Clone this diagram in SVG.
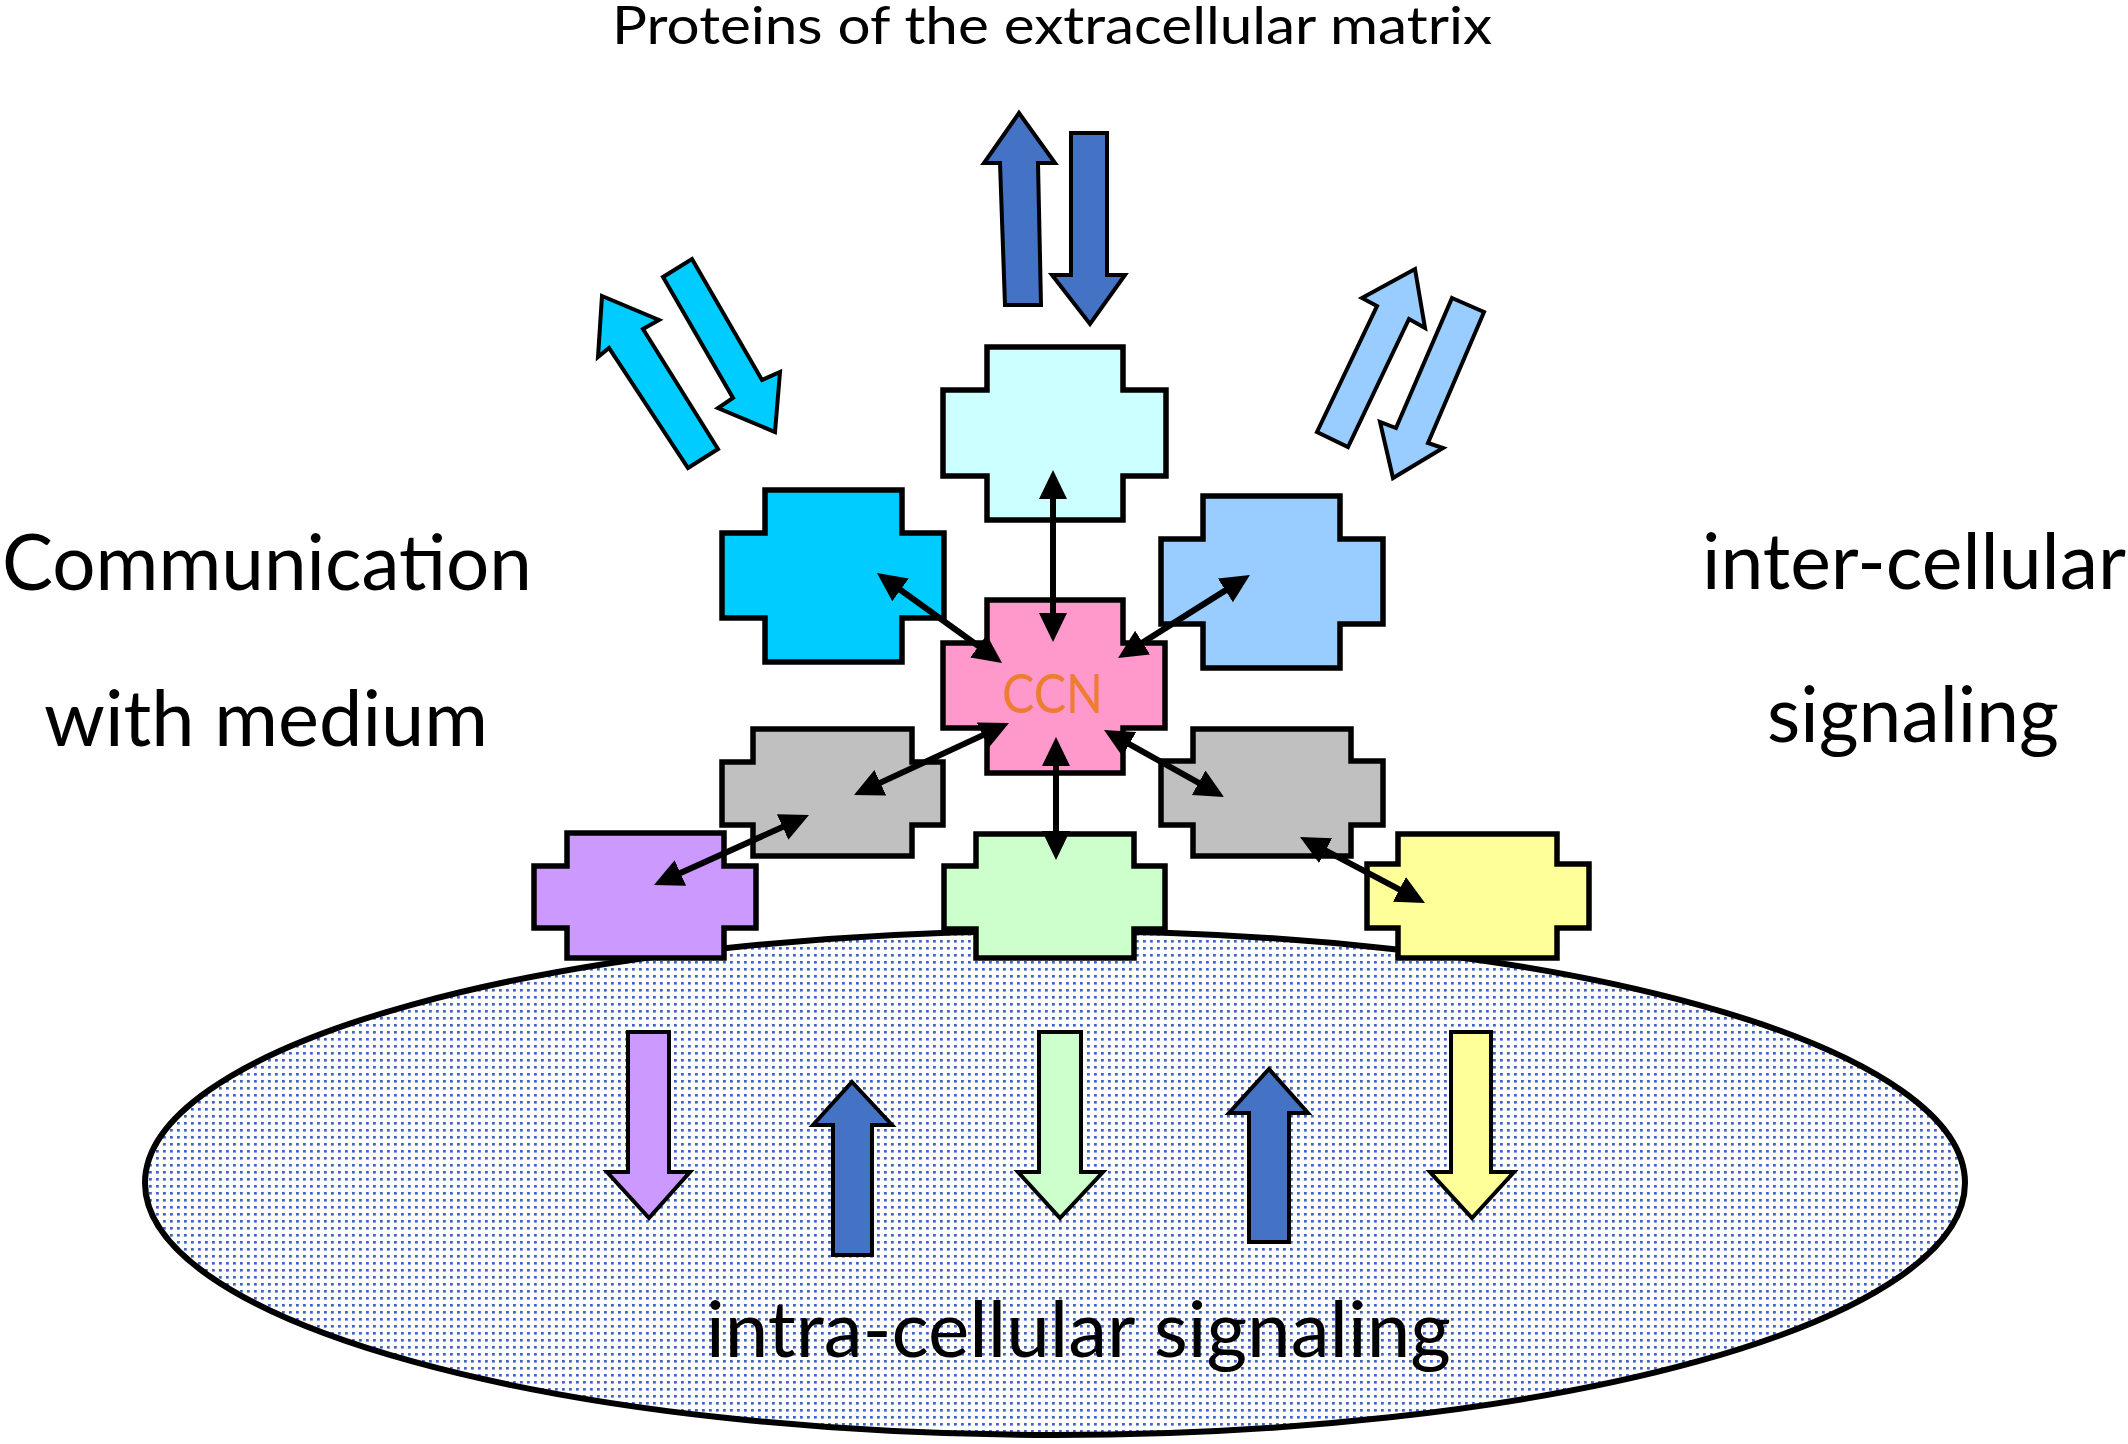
<svg xmlns="http://www.w3.org/2000/svg" width="2128" height="1444" viewBox="0 0 2128 1444">
<style>
.node{stroke:#000;stroke-width:5.5;stroke-linejoin:miter}
.blk{stroke:#000;stroke-width:4;stroke-linejoin:miter}
.lbl{font-family:Lato,"Open Sans","Liberation Sans",sans-serif;fill:#000}
.con{stroke:#000;stroke-width:6;fill:none;marker-start:url(#ah);marker-end:url(#ah)}
</style>
<defs>
<pattern id="dots" x="0" y="0" width="7" height="7" patternUnits="userSpaceOnUse">
<rect x="2" y="2" width="2.8" height="2.6" fill="#3f63c8"/>
</pattern>
<marker id="ah" markerUnits="userSpaceOnUse" markerWidth="30" markerHeight="30" viewBox="0 0 30 30" refX="17" refY="15" orient="auto-start-reverse">
<path d="M0,1 L29,15 L0,29 z" fill="#000"/>
</marker>
</defs>
<rect width="2128" height="1444" fill="#fff"/>

<g id="cell">
<ellipse cx="1055" cy="1183" rx="910" ry="252" fill="#fff"/>
<ellipse cx="1055" cy="1183" rx="910" ry="252" fill="url(#dots)" stroke="#000" stroke-width="6"/>
</g>

<g id="texts">
<text class="lbl" x="612" y="44" font-size="52" textLength="880" lengthAdjust="spacingAndGlyphs">Proteins of the extracellular matrix</text>
<text class="lbl" x="2" y="590" font-size="77" textLength="530" lengthAdjust="spacingAndGlyphs">Communication</text>
<text class="lbl" x="44" y="746" font-size="77" textLength="444" lengthAdjust="spacingAndGlyphs">with medium</text>
<text class="lbl" x="1702" y="589" font-size="77" textLength="424" lengthAdjust="spacingAndGlyphs">inter-cellular</text>
<text class="lbl" x="1767" y="742" font-size="77" textLength="292" lengthAdjust="spacingAndGlyphs">signaling</text>
<text class="lbl" x="706" y="1357" font-size="77" textLength="745" lengthAdjust="spacingAndGlyphs">intra-cellular signaling</text>
</g>

<g id="block-arrows">
<polygon id="ecm-up" class="blk" fill="#4472c4" points="1019,113 1055,163 1038,163 1041,305 1005,305 1000,163 984,163"/>
<polygon id="ecm-down" class="blk" fill="#4472c4" points="1071,133 1107,133 1107,275 1125,275 1090,324 1052,275 1071,275"/>
<polygon id="med-out" class="blk" fill="#00ccff" points="602,296 659,320 643,329 718,449 688,468 609,348 598,357"/>
<polygon id="med-in" class="blk" fill="#00ccff" points="663,277 692,259 762,380 780,372 775,432 718,408 733,398"/>
<polygon id="inter-out" class="blk" fill="#99ccff" points="1415,269 1425,328 1409,319 1348,447 1317,432 1377,306 1362,298"/>
<polygon id="inter-in" class="blk" fill="#99ccff" points="1452,298 1484,312 1428,443 1443,448 1393,478 1380,422 1396,428"/>
<polygon id="intra-1" class="blk" fill="#cc99ff" points="628,1032 669,1032 669,1172 690,1172 649,1218 607,1172 628,1172"/>
<polygon id="intra-2" class="blk" fill="#4472c4" points="852,1082 892,1125 872,1125 872,1255 833,1255 833,1125 813,1125"/>
<polygon id="intra-3" class="blk" fill="#ccffcc" points="1039,1032 1081,1032 1081,1172 1103,1172 1060,1218 1018,1172 1039,1172"/>
<polygon id="intra-4" class="blk" fill="#4472c4" points="1269,1069 1308,1113 1289,1113 1289,1242 1249,1242 1249,1113 1229,1113"/>
<polygon id="intra-5" class="blk" fill="#ffff99" points="1451,1032 1491,1032 1491,1172 1514,1172 1472,1218 1430,1172 1451,1172"/>
</g>

<g id="node-top"><path class="node" fill="#ccffff" d="M987,347 H1123 V390 H1166 V476 H1123 V520 H987 V476 H943 V390 H987 Z"/></g>
<g id="node-left"><path class="node" fill="#00ccff" d="M765,490 H902 V533 H944 V618 H902 V662 H765 V618 H722 V533 H765 Z"/></g>
<g id="node-right"><path class="node" fill="#99ccff" d="M1203,496 H1340 V539 H1383 V624 H1340 V668 H1203 V624 H1161 V539 H1203 Z"/></g>
<g id="node-ccn"><path class="node" fill="#ff99cc" d="M987,600 H1123 V643 H1165 V728 H1123 V773 H987 V728 H943 V643 H987 Z"/>
<text x="1002" y="713" font-family="Lato,'Open Sans','Liberation Sans',sans-serif" font-size="54" fill="#ed7d31" textLength="101" lengthAdjust="spacingAndGlyphs">CCN</text></g>
<g id="node-gray-left"><path class="node" fill="#c0c0c0" d="M753,729 H912 V762 H943 V825 H912 V856 H753 V825 H722 V762 H753 Z"/></g>
<g id="node-gray-right"><path class="node" fill="#c0c0c0" d="M1193,729 H1351 V761 H1383 V825 H1351 V856 H1193 V825 H1161 V761 H1193 Z"/></g>
<g id="node-purple"><path class="node" fill="#cc99ff" d="M567,833 H724 V866 H756 V928 H724 V958 H567 V928 H534 V866 H567 Z"/></g>
<g id="node-green"><path class="node" fill="#ccffcc" d="M976,834 H1134 V866 H1165 V929 H1134 V958 H976 V929 H944 V866 H976 Z"/></g>
<g id="node-yellow"><path class="node" fill="#ffff99" d="M1398,834 H1557 V864 H1589 V928 H1557 V958 H1398 V928 H1367 V864 H1398 Z"/></g>

<g id="connectors">
<line class="con" x1="1053" y1="482" x2="1053" y2="630"/>
<line class="con" x1="886.7" y1="580" x2="992.3" y2="656"/>
<line class="con" x1="1239.8" y1="581.4" x2="1128.2" y2="651.6"/>
<line class="con" x1="998.1" y1="728.1" x2="864.9" y2="789.9"/>
<line class="con" x1="798.1" y1="820" x2="664.9" y2="880"/>
<line class="con" x1="1056" y1="749" x2="1056" y2="848"/>
<line class="con" x1="1114.5" y1="735.9" x2="1213.5" y2="791.1"/>
<line class="con" x1="1310.6" y1="842.6" x2="1414.4" y2="897.4"/>
</g>
</svg>
